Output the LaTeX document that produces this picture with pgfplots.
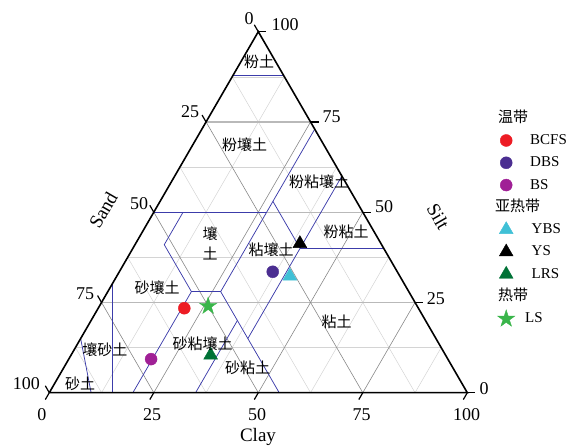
\documentclass[border=0pt]{standalone}
\usepackage{pgfplots}
\pgfplotsset{compat=1.18}
\usepackage{fontspec}
\setmainfont{Liberation Serif}
\newfontfamily\cjk{Noto Sans CJK SC}

\definecolor{bnd}{RGB}{60,60,170}
\definecolor{gminor}{RGB}{212,212,212}
\definecolor{gmajor}{RGB}{135,135,135}
\definecolor{gmajorh}{RGB}{185,185,185}
\definecolor{cBCFS}{RGB}{237,28,36}
\definecolor{cDBS}{RGB}{75,46,145}
\definecolor{cBS}{RGB}{160,32,150}
\definecolor{cYBS}{RGB}{64,192,214}
\definecolor{cYS}{RGB}{0,0,0}
\definecolor{cLRS}{RGB}{0,114,54}
\definecolor{cLS}{RGB}{57,181,74}

\pgfdeclareplotmark{fstar}{%
  \pgfpathmoveto{\pgfpointpolar{90}{\pgfplotmarksize}}%
  \pgfpathlineto{\pgfpointpolar{126}{0.382\pgfplotmarksize}}%
  \pgfpathlineto{\pgfpointpolar{162}{\pgfplotmarksize}}%
  \pgfpathlineto{\pgfpointpolar{198}{0.382\pgfplotmarksize}}%
  \pgfpathlineto{\pgfpointpolar{234}{\pgfplotmarksize}}%
  \pgfpathlineto{\pgfpointpolar{270}{0.382\pgfplotmarksize}}%
  \pgfpathlineto{\pgfpointpolar{306}{\pgfplotmarksize}}%
  \pgfpathlineto{\pgfpointpolar{342}{0.382\pgfplotmarksize}}%
  \pgfpathlineto{\pgfpointpolar{18}{\pgfplotmarksize}}%
  \pgfpathlineto{\pgfpointpolar{54}{0.382\pgfplotmarksize}}%
  \pgfpathclose\pgfusepathqfillstroke}

\pgfplotsset{
  gminorst/.style={color=gminor, line width=0.5pt, forget plot},
  gmajorst/.style={color=gmajor, line width=0.6pt, forget plot},
  gmajorhst/.style={color=gmajorh, line width=1.3pt, forget plot},
  bndst/.style={color=bnd, line width=0.75pt, forget plot},
  dot legend/.style={legend image code/.code={\path[draw=none,fill=none] (-11pt,-9pt) rectangle (24pt,9pt); \draw[##1] plot coordinates {(0pt,0pt)};}},
}
% ternary (clay c, silt s) -> x = c + s/2, y = s
\newcommand{\tplot}[2]{\addplot[#1] table[row sep=\\, x expr=\thisrow{c}+0.5*\thisrow{s}, y=s] {#2};}

\begin{document}
\begin{tikzpicture}
\useasboundingbox (-49.3pt,-53.3pt) rectangle (529.7pt,392.7pt);
\begin{axis}[
  scale only axis, width=418pt, height=361pt,
  xmin=0, xmax=100, ymin=0, ymax=100,
  enlargelimits=false, hide axis, clip=false,
  legend cell align=left,
  legend style={draw=none, fill=none, at={(1.0663,0.7859)}, anchor=north west,
    inner xsep=0pt, inner ysep=0pt, row sep=4.3pt,
    nodes={inner sep=0pt, text height=13pt, text depth=5pt, font=\fontsize{15}{18}\selectfont}},
]
% minor grid
\addplot[gminorst] coordinates {(6.25,12.5) (93.75,12.5)};
\addplot[gminorst] coordinates {(18.75,37.5) (81.25,37.5)};
\addplot[gminorst] coordinates {(31.25,62.5) (68.75,62.5)};
\addplot[gminorst] coordinates {(43.75,87.5) (56.25,87.5)};
\addplot[gminorst] coordinates {(12.5,0) (56.25,87.5)};
\addplot[gminorst] coordinates {(37.5,0) (68.75,62.5)};
\addplot[gminorst] coordinates {(62.5,0) (81.25,37.5)};
\addplot[gminorst] coordinates {(87.5,0) (93.75,12.5)};
\addplot[gminorst] coordinates {(12.5,0) (6.25,12.5)};
\addplot[gminorst] coordinates {(37.5,0) (18.75,37.5)};
\addplot[gminorst] coordinates {(62.5,0) (31.25,62.5)};
\addplot[gminorst] coordinates {(87.5,0) (43.75,87.5)};
% major grid
\addplot[gmajorhst] coordinates {(12.5,25) (87.5,25)};
\addplot[gmajorhst] coordinates {(25,50) (75,50)};
\addplot[gmajorhst] coordinates {(37.5,75) (62.5,75)};
\addplot[gmajorst] coordinates {(25,0) (62.5,75)};
\addplot[gmajorst] coordinates {(50,0) (75,50)};
\addplot[gmajorst] coordinates {(75,0) (87.5,25)};
\addplot[gmajorst] coordinates {(25,0) (12.5,25)};
\addplot[gmajorst] coordinates {(50,0) (25,50)};
\addplot[gmajorst] coordinates {(75,0) (37.5,75)};
% texture class boundaries (clay, silt)
\tplot{bndst}{c s\\ 0 88\\ 12 88\\}
\tplot{bndst}{c s\\ 0 50\\ 27 50\\}
\tplot{bndst}{c s\\ 27 73\\ 27 28\\}
\tplot{bndst}{c s\\ 27 53\\ 40 40\\}
\tplot{bndst}{c s\\ 40 60\\ 40 15\\}
\tplot{bndst}{c s\\ 40 40\\ 60 40\\}
\tplot{bndst}{c s\\ 27 28\\ 55 0\\}
\tplot{bndst}{c s\\ 35 20\\ 35 0\\}
\tplot{bndst}{c s\\ 20 28\\ 27 28\\}
\tplot{bndst}{c s\\ 20 28\\ 7 41\\ 7 50\\}
\tplot{bndst}{c s\\ 20 28\\ 20 0\\}
\tplot{bndst}{c s\\ 0 30\\ 15 0\\}
\tplot{bndst}{c s\\ 0 15\\ 10 0\\}
% triangle
\tplot{black, line width=1.6pt, forget plot}{c s\\ 0 0\\ 100 0\\ 0 100\\ 0 0\\}
% data
\addlegendimage{empty legend}\addlegendentry{\hspace*{-35pt}\cjk 温带}
\tplot{only marks, mark=*, mark size=6pt, color=cBCFS, dot legend}{c s\\ 20.6 23.4\\}
\addlegendentry{BCFS}
\tplot{only marks, mark=*, mark size=6pt, color=cDBS, dot legend}{c s\\ 36.7 33.5\\}
\addlegendentry{DBS}
\tplot{only marks, mark=*, mark size=6pt, color=cBS, dot legend}{c s\\ 19.7 9.3\\}
\addlegendentry{BS}
\addlegendimage{empty legend}\addlegendentry{\hspace*{-35pt}\cjk 亚热带}
\tplot{only marks, mark=triangle*, mark size=8pt, color=cYBS, dot legend}{c s\\ 41.4 32.3\\}
\addlegendentry{\hspace*{1.5pt}YBS}
\tplot{only marks, mark=triangle*, mark size=8pt, color=cYS, dot legend}{c s\\ 39.3 41.3\\}
\addlegendentry{\hspace*{1.5pt}YS}
\tplot{only marks, mark=triangle*, mark size=8pt, color=cLRS, dot legend}{c s\\ 33.4 10.4\\}
\addlegendentry{\hspace*{1.5pt}LRS}
\addlegendimage{empty legend}\addlegendentry{\hspace*{-35pt}\cjk 热带}
\tplot{only marks, mark=fstar, mark size=9pt, color=cLS, dot legend}{c s\\ 26.0 24.0\\}
\addlegendentry{\hspace*{-5pt}LS}
\end{axis}
% ticks
\begin{scope}[line width=1.2pt]
\foreach \x in {0,104.5,209,313.5,418} \draw (\x pt,0pt) -- ++(-4pt,-6.9pt);
\foreach \x/\y in {418/0,365.75/90.25,313.5/180.5,261.25/270.75,209/361} \draw (\x pt,\y pt) -- ++(8pt,0pt);
\foreach \x/\y in {209/361,156.75/270.75,104.5/180.5,52.25/90.25,0/0} \draw (\x pt,\y pt) -- ++(-4pt,6.9pt);
\end{scope}
% tick labels
\begin{scope}[font=\fontsize{18}{20}\selectfont, inner sep=0pt]
\node at (-7.3pt,-22.3pt) {0};
\node at (102.7pt,-22.3pt) {25};
\node at (207.7pt,-22.3pt) {50};
\node at (312.4pt,-22.3pt) {75};
\node at (417.4pt,-22.3pt) {100};
\node at (434.9pt,3.9pt) {0};
\node at (386.5pt,93.7pt) {25};
\node at (334.7pt,185.7pt) {50};
\node at (282.4pt,276pt) {75};
\node at (235.7pt,367.7pt) {100};
\node at (199.9pt,374.4pt) {0};
\node at (140.7pt,281pt) {25};
\node at (89.7pt,189.2pt) {50};
\node at (35.7pt,99.2pt) {75};
\node at (-22.8pt,9.2pt) {100};
\end{scope}
% axis titles
\begin{scope}[font=\fontsize{19}{22}\selectfont, inner sep=0pt]
\node at (208.7pt,-44.3pt) {Clay};
\node[rotate=60] at (54pt,182.7pt) {Sand};
\node[rotate=-60] at (389pt,176pt) {Silt};
\end{scope}
% class names
\begin{scope}[font=\fontsize{15}{18}\selectfont\cjk, inner sep=0pt]
\node at (209.7pt,330.7pt) {粉土};
\node at (195.2pt,247.7pt) {粉壤土};
\node at (269.7pt,211pt) {粉粘壤土};
\node at (160.7pt,159.4pt) {壤};
\node at (160.7pt,139.4pt) {土};
\node at (221.7pt,142.7pt) {粘壤土};
\node at (296.7pt,160.4pt) {粉粘土};
\node at (107.7pt,105.4pt) {砂壤土};
\node at (287.4pt,71pt) {粘土};
\node at (153.2pt,49.4pt) {砂粘壤土};
\node at (55.7pt,42.7pt) {壤砂土};
\node at (30.7pt,9.4pt) {砂土};
\node at (198.2pt,24.4pt) {砂粘土};
\end{scope}
\end{tikzpicture}
\end{document}
